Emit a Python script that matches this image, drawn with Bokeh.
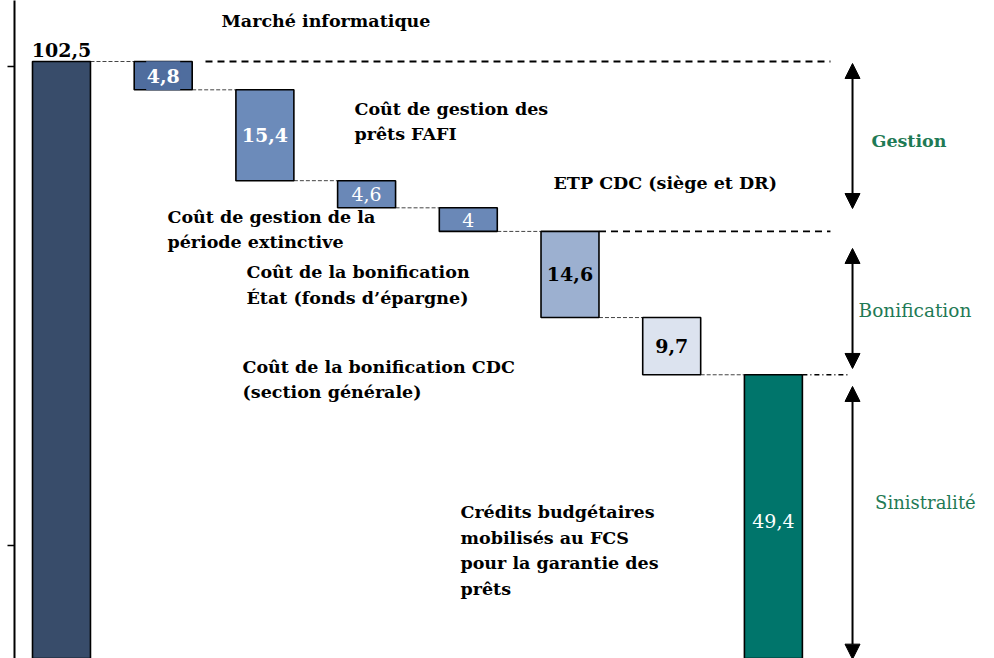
from bokeh.plotting import figure
from bokeh.models import Range1d, FixedTicker, Arrow, NormalHead
from bokeh.core.properties import value
from bokeh.embed import file_html
from bokeh.resources import INLINE

# ---------------- data ----------------
categories = ["Total", "Marché informatique", "Coût de gestion des prêts FAFI",
              "Coût de gestion de la période extinctive", "ETP CDC (siège et DR)",
              "Coût de la bonification État (fonds d’épargne)",
              "Coût de la bonification CDC (section générale)",
              "Crédits budgétaires mobilisés au FCS pour la garantie des prêts"]
values = [102.5, 4.8, 15.4, 4.6, 4, 14.6, 9.7, 49.4]
value_labels = ["102,5", "4,8", "15,4", "4,6", "4", "14,6", "9,7", "49,4"]
annot_texts = ["Marché informatique",
               "Coût de gestion des\nprêts FAFI",
               "Coût de gestion de la\npériode extinctive",
               "ETP CDC (siège et DR)",
               "Coût de la bonification\nÉtat (fonds d’épargne)",
               "Coût de la bonification CDC\n(section générale)",
               "Crédits budgétaires\nmobilisés au FCS\npour la garantie des\nprêts"]
groups = ["Gestion", "Bonification", "Sinistralité"]
group_bars = [[1, 2, 3, 4], [5, 6], [7]]
axis_ticks = [20.5, 101.7]

# ---------------- styles / positions ----------------
bar_colors = ["#384C6A", "#4F6D9E", "#6C8BBA", "#6A88B7", "#6A88B7", "#9CB0D0", "#DCE3EF", "#00756B"]
label_colors = ["black", "white", "white", "white", "white", "black", "black", "white"]
label_styles = ["bold", "bold", "bold", "normal", "normal", "bold", "bold", "normal"]
annot_x = [1.573, 2.881, 1.042, 4.838, 1.819, 1.780, 3.923]
annot_y = [109.45, 92.33, 74.03, 81.99, 64.62, 48.60, 19.62]
group_x = [8.333, 8.392, 8.495]
group_y = [89.11, 60.30, 27.75]
group_styles = ["bold", "normal", "normal"]
group_sizes = ["17.5px", "18.5px", "18px"]
arrow_insets = [(0.34, 3.88), (2.89, 1.07), (1.98, 1.2)]
GREEN = "#1F7A55"
FONT = value("DejaVu Serif")
BW = 0.57

# waterfall geometry from values
tops, bottoms = [], []
level = 0
for i, v in enumerate(values):
    if i == 0:
        tops.append(v); bottoms.append(0); level = v
    else:
        tops.append(level); bottoms.append(level - v); level -= v
xs = list(range(len(values)))
mids = [(t + b) / 2 for t, b in zip(tops, bottoms)]

p = figure(width=994, height=658, x_range=Range1d(-0.462, 9.174), y_range=Range1d(1.31, 112.84),
           x_axis_type=None, output_backend="svg", toolbar_location=None,
           min_border=0, min_border_left=14)
p.grid.visible = False
p.outline_line_color = None
p.background_fill_color = "white"

ax = p.yaxis[0]
ax.ticker = FixedTicker(ticks=axis_ticks)
ax.major_label_overrides = {t: "" for t in axis_ticks}
ax.major_label_standoff = 0
ax.major_tick_out = 7
ax.major_tick_in = 0
ax.minor_tick_out = 0
ax.minor_tick_in = 0
ax.axis_line_width = 2
ax.major_tick_line_width = 1.5

# connectors
for i in range(len(values) - 1):
    lvl = tops[i] if i == 0 else bottoms[i]
    p.line([xs[i] + BW / 2, xs[i + 1] - BW / 2], [lvl, lvl], line_color="#444444",
           line_width=1, line_dash="4 2")

# bars
p.vbar(x=xs, top=tops, bottom=bottoms, width=BW, fill_color=bar_colors,
       line_color="black", line_width=1.6)

# value-label box for bar 1
p.rect(x=[xs[1]], y=[mids[1]], width=34, height=29, width_units="screen", height_units="screen",
       fill_color=bar_colors[1], line_color=None)

# value labels
for i in range(len(values)):
    if i == 0:
        p.text([xs[i]], [tops[i]], [value_labels[i]], text_font=FONT, text_font_style="bold",
               text_font_size="19px", text_color="black", text_align="center",
               text_baseline="bottom", y_offset=-5)
    else:
        p.text([xs[i]], [mids[i]], [value_labels[i]], text_font=FONT,
               text_font_style=label_styles[i], text_font_size="19px",
               text_color=label_colors[i], text_align="center", text_baseline="middle")

# category annotations
p.text(annot_x, annot_y, annot_texts, text_font=FONT, text_font_style="bold",
       text_font_size="17.5px", text_color="black", text_align="left",
       text_baseline="middle", text_line_height=1.27)

# group dashed lines
ax_x = xs[7] + 0.778
p.line([1.416, 7.561], [tops[0], tops[0]], line_color="black", line_width=1.8, line_dash="7 5")
p.line([xs[5] + BW / 2, 7.561], [bottoms[4], bottoms[4]], line_color="black", line_width=1.8, line_dash="7 5")
p.line([xs[7] + BW / 2, ax_x - 0.04], [tops[7], tops[7]], line_color="black", line_width=1.5, line_dash="5 3 1 3")

# arrows
for g, members in enumerate(group_bars):
    gtop = tops[members[0]]
    gbot = bottoms[members[-1]]
    ins = arrow_insets[g]
    p.add_layout(Arrow(start=NormalHead(size=15, fill_color="black", line_color="black"),
                       end=NormalHead(size=15, fill_color="black", line_color="black"),
                       x_start=ax_x, y_start=gtop - ins[0], x_end=ax_x, y_end=gbot + ins[1],
                       line_color="black", line_width=2))
    p.text([group_x[g]], [group_y[g]], [groups[g]], text_font=FONT, text_font_style=group_styles[g],
           text_font_size=group_sizes[g], text_color=GREEN, text_align="center", text_baseline="middle")

open("out.html", "w").write(file_html(p, INLINE))
